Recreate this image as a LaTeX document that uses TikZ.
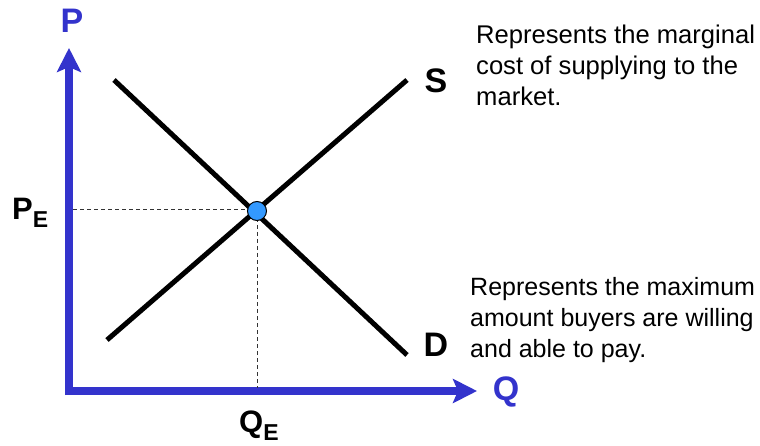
\documentclass[tikz,border=0pt]{standalone}
\usepackage{fontspec}
\setmainfont{Liberation Sans}
\usetikzlibrary{arrows.meta}
\definecolor{axisblue}{HTML}{3333CC}
\definecolor{ptblue}{HTML}{3399FF}
\tikzset{
  axisline/.style={draw=axisblue, line width=8pt, -{Stealth[length=24pt,width=24pt,inset=5pt]}},
  curve/.style={draw=black, line width=5pt},
  guide/.style={draw=black!80, line width=1pt, dash pattern=on 4pt off 3pt},
  axislabel/.style={text=axisblue, font=\fontsize{34}{34}\selectfont\bfseries, inner sep=0pt},
  curvelabel/.style={font=\fontsize{34}{34}\selectfont\bfseries, inner sep=0pt},
  eqlabel/.style={font=\fontsize{31}{31}\selectfont\bfseries, inner sep=0pt},
  note/.style={font=\fontsize{25.6}{31}\selectfont, align=left, anchor=north west, inner sep=0pt},
  eqpoint/.style={circle, draw=black, fill=ptblue, line width=1pt, minimum size=19pt, inner sep=0pt}
}
\newcommand{\subE}[1]{\raisebox{-#1}{\fontsize{23}{23}\selectfont\bfseries E}}
\begin{document}
\begin{tikzpicture}[x=1pt,y=-1pt]
\useasboundingbox[fill=white] (0,0) rectangle (760,446);
% axes
\coordinate (ybot) at (69,395);
\coordinate (ytip) at (69,48);
\coordinate (xleft) at (65,391);
\coordinate (xtip) at (477,391);
\draw[axisline] (ybot) -- (ytip);
\draw[axisline] (xleft) -- (xtip);
% curves
\coordinate (s1) at (107,340);
\coordinate (s2) at (407,80);
\coordinate (d1) at (114,80);
\coordinate (d2) at (407,355);
\draw[curve] (s1) -- (s2);
\draw[curve] (d1) -- (d2);
% guides
\coordinate (eq) at (257,211);
\coordinate (pe) at (73,210);
\coordinate (qe) at (257,388);
\draw[guide] (pe) -- (pe -| eq);
\draw[guide] (eq) -- (qe);
\node[eqpoint] (E) at (eq) {};
% labels
\node[axislabel] (P) at (72,21) {P};
\node[axislabel] (Q) at (506,392) {Q};
\node[curvelabel] (S) at (436,81) {S};
\node[curvelabel] (D) at (436,345) {D};
\node[eqlabel, anchor=base west] (PE) at (12,220) {P\subE{8pt}};
\node[eqlabel, anchor=base west] (QE) at (239,432) {Q\subE{8pt}};
% notes
\node[note] (n1) at (476,25) {Represents the marginal\\cost of supplying to the\\market.};
\node[note, font=\fontsize{25}{31}\selectfont] (n2) at (470,277) {Represents the maximum\\amount buyers are willing\\and able to pay.};
\end{tikzpicture}
\end{document}
